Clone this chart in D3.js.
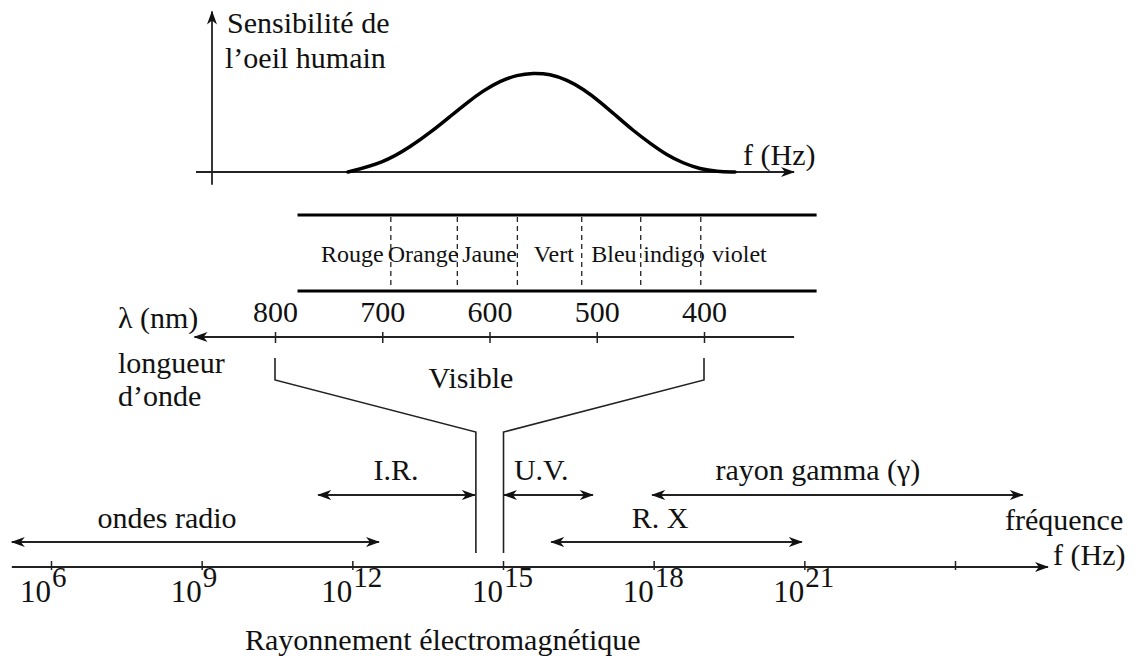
<!DOCTYPE html>
<html>
<head>
<meta charset="utf-8">
<script src="https://cdn.jsdelivr.net/npm/d3@7"></script>
<style>
  body { margin: 0; background: #fff; }
  text { font-family: "Liberation Serif", "Times New Roman", serif; fill: #111; }
</style>
</head>
<body>
<script>
// eye sensitivity curve (frequency in 1e14 Hz, relative sensitivity)
var curveFreq = [3.52, 3.87, 4.14, 4.37, 4.54, 4.71, 4.87, 5.04, 5.21, 5.37, 5.54,
                 5.71, 5.87, 6.04, 6.21, 6.37, 6.54, 6.71, 6.87, 7.04, 7.21, 7.39];
var curveSens = [0, 0.09, 0.25, 0.42, 0.56, 0.70, 0.82, 0.92, 0.98, 1.0, 0.99,
                 0.93, 0.84, 0.71, 0.56, 0.42, 0.29, 0.17, 0.09, 0.03, 0.005, 0];

// visible colours (nm)
var colorNames  = ['Rouge', 'Orange', 'Jaune', 'Vert', 'Bleu', 'indigo', 'violet'];
var colorLabelNm = [728, 662, 600, 540, 484, 428, 367];
var colorBoundsNm = [692, 630, 574, 514, 459, 403];
var colorBandNm = [779, 295];

// wavelength axis
var lambdaTicks = [800, 700, 600, 500, 400];
var lambdaExtent = [316, 875];
var visibleNm = [800, 400];

// frequency axis (log10 of Hz)
var freqTicks = [6, 9, 12, 15, 18, 21, 24];
var freqTickLabels = ['6', '9', '12', '15', '18', '21', ''];
var freqExtent = [5.22, 25.85];
var visibleExp = [14.46, 15.01];

// spectrum domains (log10 of Hz)
var bandNames   = ['ondes radio', 'I.R.', 'U.V.', 'rayon gamma (\u03b3)', 'R. X'];
var bandFrom    = [5.22, 11.32, 15.02, 17.97, 15.96];
var bandTo      = [12.53, 14.44, 16.79, 25.35, 20.95];
var bandLabelAt = [8.31, 12.87, 15.76, 21.27, 18.13];
var bandRow     = [1, 0, 0, 0, 1];

var W = 1136, H = 661;
var svg = d3.select('body').append('svg')
    .attr('width', W)
    .attr('height', H);

// arrow heads
var defs = svg.append('defs');
defs.append('marker')
    .attr('id', 'arr')
    .attr('viewBox', '0 0 14 10')
    .attr('refX', 13).attr('refY', 5)
    .attr('markerWidth', 14).attr('markerHeight', 10)
    .attr('markerUnits', 'userSpaceOnUse')
    .attr('orient', 'auto-start-reverse')
  .append('path')
    .attr('d', 'M0,0 L14,5 L0,10 L4,5 Z')
    .attr('fill', '#111');

// ---------- top: sensitivity of the eye ----------
var fTop = d3.scaleLinear().domain([2, 8]).range([196, 796]);
var sTop = d3.scaleLinear().domain([0, 1]).range([172, 73]);

svg.append('line')
    .attr('x1', fTop(2)).attr('x2', fTop(7.98))
    .attr('y1', sTop(0)).attr('y2', sTop(0))
    .attr('stroke', '#222').attr('stroke-width', 1.8)
    .attr('marker-end', 'url(#arr)');
svg.append('line')
    .attr('x1', fTop(2.16)).attr('x2', fTop(2.16))
    .attr('y1', sTop(-0.13)).attr('y2', sTop(1.62))
    .attr('stroke', '#222').attr('stroke-width', 1.8)
    .attr('marker-end', 'url(#arr)');

var pts = curveFreq.map((f, i) => [f, curveSens[i]]);
svg.append('path')
    .datum(pts)
    .attr('fill', 'none')
    .attr('stroke', '#000')
    .attr('stroke-width', 3.5)
    .attr('stroke-linecap', 'round')
    .attr('d', d3.line()
      .x(d => fTop(d[0]))
      .y(d => sTop(d[1]))
      .curve(d3.curveBasis));

svg.append('text').attr('x', 227).attr('y', 33)
    .attr('font-size', 30).text('Sensibilité de');
svg.append('text').attr('x', 225).attr('y', 68)
    .attr('font-size', 30).text('l\u2019oeil humain');
svg.append('text').attr('x', 743).attr('y', 165)
    .attr('font-size', 30).text('f (Hz)');

// ---------- visible colour band ----------
var lam = d3.scaleLinear().domain([800, 400]).range([275, 704]);

[215, 291].forEach(y => {
  svg.append('line')
      .attr('x1', lam(colorBandNm[0])).attr('x2', lam(colorBandNm[1]))
      .attr('y1', y).attr('y2', y)
      .attr('stroke', '#000').attr('stroke-width', 3.2);
});

svg.selectAll('.sep')
  .data(colorBoundsNm)
  .enter().append('line')
    .attr('class', 'sep')
    .attr('x1', d => lam(d)).attr('x2', d => lam(d))
    .attr('y1', 217).attr('y2', 289)
    .attr('stroke', '#222').attr('stroke-width', 1.3)
    .attr('stroke-dasharray', '5,4');

svg.selectAll('.cname')
  .data(colorNames)
  .enter().append('text')
    .attr('class', 'cname')
    .attr('x', (d, i) => lam(colorLabelNm[i]))
    .attr('y', 262)
    .attr('text-anchor', 'middle')
    .attr('font-size', 24)
    .text(d => d);

// ---------- wavelength axis ----------
var yLam = 337;
svg.append('line')
    .attr('x1', lam(lambdaExtent[0])).attr('x2', lam(lambdaExtent[1]))
    .attr('y1', yLam).attr('y2', yLam)
    .attr('stroke', '#222').attr('stroke-width', 1.8)
    .attr('marker-end', 'url(#arr)');

var lamAxis = svg.append('g')
    .attr('transform', 'translate(0,' + yLam + ')')
    .call(d3.axisTop(lam).tickValues(lambdaTicks).tickSize(5).tickPadding(10));
lamAxis.select('.domain').remove();
lamAxis.selectAll('.tick line').attr('y2', 6).attr('y1', -5)
    .attr('stroke', '#222').attr('stroke-width', 1.5);
lamAxis.selectAll('.tick text')
    .attr('font-size', 30)
    .attr('font-family', '"Liberation Serif", serif')
    .attr('fill', '#111');
lamAxis.attr('font-size', null).attr('font-family', null);

svg.append('text').attr('x', 118).attr('y', 328)
    .attr('font-size', 30).text('\u03bb (nm)');
svg.append('text').attr('x', 118).attr('y', 373)
    .attr('font-size', 30).text('longueur');
svg.append('text').attr('x', 118).attr('y', 406)
    .attr('font-size', 30).text('d\u2019onde');

// ---------- frequency axis ----------
var fx = d3.scaleLog().domain([1e6, 1e24]).range([51, 955]);
var e = v => fx(Math.pow(10, v));
var yF = 567;

// visible bracket
var bTop = 358, bKnee = 380, bNeck = 432, bBot = 553;
svg.append('path')
    .attr('d', d3.line()([[lam(visibleNm[0]), bTop], [lam(visibleNm[0]), bKnee],
                          [e(visibleExp[0]), bNeck], [e(visibleExp[0]), bBot]]))
    .attr('fill', 'none').attr('stroke', '#222').attr('stroke-width', 1.6);
svg.append('path')
    .attr('d', d3.line()([[lam(visibleNm[1]), bTop], [lam(visibleNm[1]), bKnee],
                          [e(visibleExp[1]), bNeck], [e(visibleExp[1]), bBot]]))
    .attr('fill', 'none').attr('stroke', '#222').attr('stroke-width', 1.6);
svg.append('text').attr('x', 471).attr('y', 388)
    .attr('text-anchor', 'middle')
    .attr('font-size', 30).text('Visible');

svg.append('line')
    .attr('x1', e(freqExtent[0])).attr('x2', e(freqExtent[1]))
    .attr('y1', yF).attr('y2', yF)
    .attr('stroke', '#222').attr('stroke-width', 1.8)
    .attr('marker-end', 'url(#arr)');

var fAxis = svg.append('g')
    .attr('transform', 'translate(0,' + yF + ')')
    .call(d3.axisBottom(fx).tickValues(freqTicks.map(v => Math.pow(10, v))).tickFormat(''));
fAxis.select('.domain').remove();
fAxis.selectAll('.tick line').attr('y1', -6).attr('y2', 3)
    .attr('stroke', '#222').attr('stroke-width', 1.5);

freqTicks.forEach((v, i) => {
  if (!freqTickLabels[i]) return;
  svg.append('text').attr('x', e(v)).attr('y', 602)
      .attr('text-anchor', 'end').attr('font-size', 31).text('10');
  svg.append('text').attr('x', e(v) + 1).attr('y', 587)
      .attr('font-size', 29).text(freqTickLabels[i]);
});

// domain arrows
var rowY = [495, 542], rowText = [480, 528];
bandNames.forEach((name, i) => {
  svg.append('line')
      .attr('x1', e(bandFrom[i])).attr('x2', e(bandTo[i]))
      .attr('y1', rowY[bandRow[i]]).attr('y2', rowY[bandRow[i]])
      .attr('stroke', '#222').attr('stroke-width', 1.8)
      .attr('marker-start', 'url(#arr)')
      .attr('marker-end', 'url(#arr)');
  svg.append('text')
      .attr('x', e(bandLabelAt[i])).attr('y', rowText[bandRow[i]])
      .attr('text-anchor', 'middle')
      .attr('font-size', 30).text(name);
});

svg.append('text').attr('x', 1005).attr('y', 530)
    .attr('font-size', 30).text('fréquence');
svg.append('text').attr('x', 1053).attr('y', 565)
    .attr('font-size', 30).text('f (Hz)');
svg.append('text').attr('x', 245).attr('y', 650)
    .attr('font-size', 30).text('Rayonnement électromagnétique');
</script>
</body>
</html>
